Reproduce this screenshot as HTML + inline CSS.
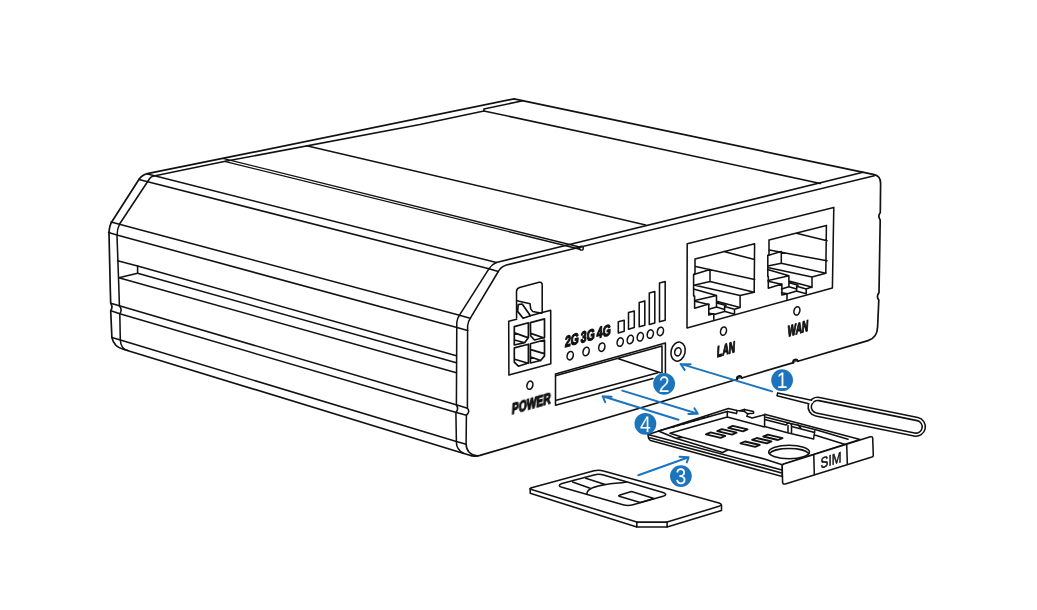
<!DOCTYPE html>
<html><head><meta charset="utf-8"><title>SIM card insertion</title>
<style>
html,body{margin:0;padding:0;background:#fff;}
body{width:1037px;height:610px;overflow:hidden;}
svg{display:block;}
text{text-rendering:geometricPrecision;}
.k{fill:none;stroke:#111;stroke-width:1.55;stroke-linecap:round;stroke-linejoin:round;}
.o{fill:none;stroke:#111;stroke-width:1.7;stroke-linecap:round;stroke-linejoin:round;}
.t{fill:none;stroke:#111;stroke-width:1.4;stroke-linecap:round;stroke-linejoin:round;}
.w{fill:#fff;stroke:#111;stroke-width:1.55;stroke-linecap:round;stroke-linejoin:round;}
.b{fill:none;stroke:#1c75bc;stroke-width:2;stroke-linecap:round;stroke-linejoin:round;}
.lbl text{font-family:"Liberation Sans","DejaVu Sans",sans-serif;font-weight:700;fill:#111;stroke:#111;stroke-width:1.35;stroke-linejoin:round;}
.num{font-family:"Liberation Sans","DejaVu Sans",sans-serif;fill:#fff;font-size:22.5px;text-anchor:middle;}
</style></head>
<body>
<svg width="1037" height="610" viewBox="0 0 1037 610">
<defs><mask id="fm" maskUnits="userSpaceOnUse" x="0" y="0" width="1037" height="610"><rect width="1037" height="610" fill="#fff"/></mask></defs>
<rect width="1037" height="610" fill="#fff"/>

<!-- ===== ROUTER BODY ===== -->
<g id="body">
<!-- silhouette -->
<path class="o" d="M109,233 Q109.3,225.5 112,221.5 L138.9,179.5 Q142,175 147.3,173.7 L223.8,158.2 L514,98.8 L874.3,174.7 Q880.6,176 880.6,183.5 L880.3,212.5 Q877.4,216.2 880.2,220 L879,292.6 Q876,296.4 878.8,300.1 L877.6,327 Q877.3,337.8 868,340.6 L797.9,361.3 A2.3,2.3 0 0 0 793.5,362.6 L741.7,378 A2.3,2.3 0 0 0 737.3,379.3 L480,455.4 Q474,457 469,455 L461.4,452.7 L123.2,349.2 Q114,346.8 111.9,337.6 L110.7,310.7 Q113.2,307 110.7,303.2 L110.3,290 Z"/>
<path d="M793.3,362.7 A2.5,2.5 0 0 1 798.1,361.2 M737.1,379.4 A2.5,2.5 0 0 1 741.9,377.9" fill="#555" stroke="#111" stroke-width="1.9" stroke-linecap="round"/>
<!-- inner left edge -->
<path class="k" d="M128,350.5 Q120.8,349 120.3,340 L119.8,313.8 Q122.6,309.8 119.4,305.7 L118.8,286 L117,236 Q117,229 119.6,224 L149.5,178.8 Q151,176.6 153.9,176.1 L225.4,161.3"/>
<!-- side face long lines -->
<path class="k" d="M147.6,174.1 L496.4,262.5"/>
<path class="k" d="M138.9,179.5 L488.9,268.8 L498.3,271.5"/>
<path class="k" d="M111,222 L459.5,315.2 L470.1,318.3"/>
<path class="k" d="M108.6,232.4 L116.9,235 L457,327.6 L467.6,330.6"/>
<path class="k" d="M117.6,260.8 L137.6,265.9 L456.4,355.7"/>
<path class="k" d="M137.6,265.9 L137.6,273.3 L118.8,277.7 L456.4,372.7"/>
<path class="k" d="M137.6,273.3 L456.4,362.7"/>
<path class="k" d="M110.7,303.2 L119.4,305.7 L457,405 L467.4,408.2"/>
<path class="k" d="M110.9,310.7 L119.8,313.8 L456.4,412.6 L466.4,415.2"/>
<path class="k" d="M111.9,337.4 L120.4,340.1 L456.4,441.4 L466.1,444.2"/>
<!-- front-left corner edges -->
<path class="k" d="M488.9,268.8 Q491.5,264.5 496.4,262.5 L863,172.2"/>
<path class="k" d="M488.9,268.8 L459.5,315.2 Q457,318.5 456.8,322.5 L456.4,405 Q459,408.8 455.9,412.6 L456.4,442.7 Q456.6,449.5 463.5,453.3"/>
<path class="k" d="M874.3,175.7 L506.5,265 Q500.5,267 498.3,271.5 L470.7,317.7 Q467.8,321.5 467.6,326 L467.4,408.2 Q470.5,411.5 466.4,415.2 L466.1,443.9 Q466.3,454.5 478,456"/>
<!-- top face -->
<path class="k" d="M225.4,161.3 L420,124.6 L483.9,110.9 L483.9,108.9 L522.8,100.8"/>
<path class="k" d="M483.9,110.9 L820.4,183.5"/>
<path class="k" d="M306.6,145.7 L645.6,224.9"/>
<path class="t" d="M223.8,158.6 L580.7,247.3 M225.5,161.6 L580,249.2"/>
<circle class="t" cx="581.4" cy="248.2" r="1.9"/>
</g>

<!-- ===== FRONT DETAILS ===== -->
<g id="power">
<path class="k" d="M516.6,318 L516.5,291.4 Q516.6,288.2 519.6,287.4 L539.1,282.3 Q542.2,281.6 542.2,285.1 L542.2,312.4"/>
<path class="k" d="M517,300.7 L530.1,303.8 L530.7,308.9 L532.6,311.4 L541.8,313.2"/>
<path class="k" style="stroke-width:1.7" d="M518.2,304.6 L522.2,304 L530.4,315.8 L523.1,318.3 L517.6,311.4 Z"/>
<path class="k" d="M516.6,319.2 L508.7,321.3 L508.9,375.1 L550.8,363.8 L550.7,310.3 L542.2,312.6 L530.2,315.8"/>
<!-- holes -->
<g class="k" style="stroke-width:1.7">
<path d="M514.3,326.6 L528.4,322.8 L528.4,337.5 L524.7,342.7 L514.3,345 Z M514.6,332.9 L527.8,337.6 M514.6,340 L524.7,342.7"/>
<path d="M530.4,322.6 L544.5,318.9 L544.5,337.5 L534.4,340 L530.6,335.8 Z M530.7,333.4 L544.2,338 "/>
<path d="M514.3,347.9 L528.4,344.2 L528.4,363 L518.4,366.2 L514.3,362.2 Z M514.6,359.3 L528.2,363.3"/>
<path d="M530.4,343.8 L544.5,340 L544.5,355.9 L540.7,360.5 L530.4,363 Z M530.8,349.6 L544.2,353.6 M530.8,357 L540.7,360.5"/>
</g>
<ellipse class="k" cx="529.9" cy="385.2" rx="2.9" ry="4.2" transform="rotate(15 529.9 385.2)"/>
</g>

<g id="leds">
<ellipse class="k" cx="570.2" cy="355.7" rx="3" ry="4.3" transform="rotate(15 570.2 355.7)"/>
<ellipse class="k" cx="586.1" cy="351.5" rx="3" ry="4.3" transform="rotate(15 586.1 351.5)"/>
<ellipse class="k" cx="601.8" cy="347.2" rx="3" ry="4.3" transform="rotate(15 601.8 347.2)"/>
<ellipse class="k" cx="620.2" cy="342.1" rx="3" ry="4.3" transform="rotate(15 620.2 342.1)"/>
<ellipse class="k" cx="630.3" cy="339.5" rx="3" ry="4.3" transform="rotate(15 630.3 339.5)"/>
<ellipse class="k" cx="640.3" cy="336.8" rx="3" ry="4.3" transform="rotate(15 640.3 336.8)"/>
<ellipse class="k" cx="650.3" cy="334.1" rx="3" ry="4.3" transform="rotate(15 650.3 334.1)"/>
<ellipse class="k" cx="660.4" cy="331.4" rx="3" ry="4.3" transform="rotate(15 660.4 331.4)"/>
<!-- signal bars -->
<path class="k" d="M618.3,321.8 L624.2,320.2 L624.2,331.3 L618.3,332.9 Z"/>
<path class="k" d="M628.5,312.6 L634.3,311 L634.3,327.6 L628.5,329.2 Z"/>
<path class="k" d="M639.2,302.5 L644.8,300.9 L644.8,325.2 L639.2,326.8 Z"/>
<path class="k" d="M649.3,293 L654.8,291.5 L654.8,323 L649.3,324.5 Z"/>
<path class="k" d="M659.5,283 L665.2,281.5 L665.2,320.2 L659.5,321.8 Z"/>
</g>

<g id="slot">
<path class="k" d="M555.5,374 L665.4,343.1 L665.4,374.6 M555.5,374 L555.5,405.3 L653,378.5"/>
<path class="k" d="M556.3,375.6 L662,346 L662,372.8 M617.7,358.4 L660.4,372.7 M556.3,400.2 L657.9,372.7"/>
<ellipse class="k" cx="678.1" cy="351.6" rx="7" ry="9.7" transform="rotate(13 678.1 351.6)"/>
<ellipse class="k" cx="677.9" cy="351.8" rx="3.1" ry="4.1" transform="rotate(15 677.9 351.8)"/>
</g>

<g id="rj45">
<path class="k" d="M687.2,243.7 L833.8,207.4 L832.4,287.9 L687,327.9 Z"/>
<!-- LAN -->
<path class="k" d="M695,259.1 L754.6,243.8 L754.2,292.2 M723.9,251.6 L754.6,259.5 M695,259.1 L695,273.9 L693.6,274.5 L693.6,296 L694.6,296 L694.6,308.2 L708.8,304.1 L708.8,315.1 L713.8,313.8 L713.8,319.6"/>
<path class="k" d="M695.7,266.6 L754.6,279.4 M693.8,274.5 L710,269.5 L710,281.4 L693.8,285.2 M710,281.4 L754.2,292.2 L740.1,295.6 L695,285.2 M740.1,295.6 L740.1,307.4 M694.4,289.2 L716.5,295.6 L716.5,306.6 M694.9,300.6 L716.5,295.6 M694.9,301.3 L708.8,304.4 M716.5,301.2 L740.1,307.4 M716.9,302.9 L726,305.4 M740.1,307.4 L734.5,309.2 L734.5,314.2 M708.8,309.3 L716.5,306.9 L724.6,309.4 L724.6,311.4 L715.1,314.2 L708.8,313.2 M724.6,306.4 L734.5,309.2 M725.2,311.6 L734.5,314.2 M724.6,306.4 L724.6,309.4"/>
<!-- WAN -->
<path class="k" d="M769,240.1 L826.4,225.4 L825.8,273.2 M796.4,233.2 L827,240.7 M769,240.1 L769,255 L767.8,255.4 L767.8,276.5 L768.3,276.5 L768.3,288.2 L781.9,284.1 L781.9,295.1 L787,293.8 L787,299.5"/>
<path class="k" d="M769.4,250.1 L827,260.8 M767.8,255.4 L781.3,251.6 L781.3,263.3 L767.8,266 M781.3,263.3 L825.8,273.2 L812,277 L768.8,267.7 M812,277 L812,287.6 M767.6,269.5 L788.9,275.7 L788.9,286.4 M768.1,280.6 L788.9,275.7 M768.1,281.2 L781.5,284.2 M788.9,281.1 L811.6,287.1 M789.3,282.8 L798.0,285.2 M811.6,287.1 L806.2,288.9 L806.2,293.7 M781.5,289.0 L788.9,286.7 L796.7,289.1 L796.7,291.0 L787.5,293.7 L781.5,292.7 M796.7,286.2 L806.2,288.9 M797.2,291.2 L806.2,293.7 M796.7,286.2 L796.7,289.1"/>
<ellipse class="k" cx="723.5" cy="331.1" rx="2.9" ry="4.2" transform="rotate(15 723.5 331.1)"/>
<ellipse class="k" cx="796.9" cy="310.9" rx="2.9" ry="4.2" transform="rotate(15 796.9 310.9)"/>
</g>

<!-- ===== LABELS ===== -->
<g class="lbl" mask="url(#fm)">
<text transform="matrix(0.66 -0.188 -0.05 1 511.8 414.2)" font-size="15.5">POWER</text>
<text transform="matrix(0.57 -0.167 -0.05 1 716.8 357.2)" font-size="15.5">LAN</text>
<text transform="matrix(0.57 -0.167 -0.05 1 787.6 336.7)" font-size="15.5">WAN</text>
<text transform="matrix(0.67 -0.183 -0.05 1 564.7 347.2)" font-size="15.5">2G</text>
<text transform="matrix(0.67 -0.183 -0.05 1 580.6 342.9)" font-size="15.5">3G</text>
<text transform="matrix(0.67 -0.183 -0.05 1 596.6 338.5)" font-size="15.5">4G</text>
</g>

<!-- ===== SIM TRAY ===== -->
<g id="tray">
<path class="w" d="M648,434.5 L728.4,408.5 L737,410.5 L740,410.8 L744.3,409.4 L753.5,411.5 L753.5,413.3 L747.8,413.8 L746.9,416.3 L752.2,417.9 L761.7,415.6 L765.5,414.4 L860.1,439.6 L782.4,464.6 L782.3,476.6 L650.6,440.6 Q648.2,439.3 648,434.5 Z"/>
<path class="k" d="M648,434.5 L781.8,469.9 M648.8,437.5 L781.8,472.9"/>
<path class="k" d="M658.5,431 L727.3,411.4 L727.3,417 L670,433.2 M658.5,431 L675.7,438.3 L722.5,452.5 L728.2,449.7 M675.7,438.3 L682.5,437.3 M670,433.2 L682.5,437.3 L728.2,449.7 L764.4,459 L782.2,464.8 M727.3,417 L763.6,426.7 M727.3,411.4 L736.5,413.6 L737,410.5 M744.3,409.4 L744.6,411.6 L747.8,413.8 M744.6,411.6 L740,410.8"/>
<path class="k" d="M764.6,414.2 L764.6,427 M766,417.2 L815.9,429.7 L848,439.3 M764.7,419.6 L786,425 M764.7,426.6 L786.5,432.4 L813.6,439 L814.7,431 M786,425 Q787,422.5 789.5,423 Q792,423.8 791.5,426.5 L791.5,433.6 M788,425.5 L788,432.8 M791.5,426.5 L814.7,432.4 M798,424.8 L801,428.6 M814.7,434.9 L846.1,444.8"/>
<path d="M672,427.3 L712,415.2" fill="none" stroke="#111" stroke-width="1.6" stroke-dasharray="3 2.2"/>
<!-- contacts -->
<g class="k" style="stroke-width:1.8">
<path d="M705.9,434.3 L720.7,437.8 L725.3,435.9 L710.5,432.4 Z"/>
<path d="M717.2,431.1 L732.0,434.6 L736.6,432.7 L721.8,429.2 Z"/>
<path d="M728.2,427.8 L743.0,431.3 L747.6,429.4 L732.8,425.9 Z"/>
<path d="M740.4,443.4 L755.2,446.9 L759.8,445.0 L745.0,441.5 Z"/>
<path d="M752.1,439.9 L766.9,443.4 L771.5,441.5 L756.7,438.0 Z"/>
<path d="M763.2,436.5 L778.0,440.0 L782.6,438.1 L767.8,434.6 Z"/>
</g>
<ellipse class="k" cx="789.1" cy="452" rx="20.4" ry="6.7"/>
<path class="k" d="M769.3,453.6 A20.4,6.7 0 0 1 808.9,453.6"/>
<!-- front plate -->
<path class="w" d="M782.2,466.3 Q782.2,464.6 783.8,464 L870.3,436.8 Q872.6,436.2 872.7,438.4 L873.3,455.2 Q873.3,456.6 871.9,457.1 L785.3,483.9 Q782.8,484.6 782.6,482.4 Z"/>
<path class="k" d="M813.8,455 L814.3,474.4 M846.7,444.6 L847.3,463.6"/>
<g mask="url(#fm)"><text transform="matrix(0.78 -0.244 0 1 820.6 468.4)" font-family="'Liberation Sans','DejaVu Sans',sans-serif" font-size="15" fill="#111" stroke="#111" stroke-width="0.6">SIM</text></g>
</g>

<!-- ===== EJECT PIN ===== -->
<g id="pin">
<g transform="translate(817.6,406.8) rotate(11.5)">
<rect class="w" x="-9.5" y="-9.5" width="119.3" height="19" rx="9.5"/>
<rect class="w" x="-6.3" y="-6.3" width="112.9" height="12.6" rx="6.3"/>
</g>
<path d="M777.7,392.9 L811.5,400.3 L813.5,402 L809.5,404.6 L777,395.7 Z" fill="#fff"/>
<path class="k" d="M811.5,400.2 L777.7,392.9 L777,395.7 L808.8,403.7"/>
</g>

<!-- ===== LOOSE SIM CARD ===== -->
<g id="simcard">
<path class="w" d="M530.2,488.6 L530.2,493.3 L636.8,527 L667.1,527 L721.5,510.4 L721.5,505 Z"/>
<path class="w" d="M531.5,487.8 L594,470.8 Q598.9,469.5 603.5,471 L719,503 Q723.5,504.5 719,506.3 L667.1,522.1 L636.8,522.1 L531.5,489.4 Q528.5,488.6 531.5,487.8 Z"/>
<path class="k" d="M636.8,522.1 L636.8,527 M667.1,522.1 L667.1,527"/>
<path class="k" d="M562,483.6 L594,474.9 Q598.9,473.6 603.5,475 L663,492.5 Q668.5,494.5 663,496.2 L633,504.8 Q628,506.2 623,504.8 L562,487.3 Q556.5,485.4 562,483.6 Z"/>
<path class="k" d="M572.6,481.9 L590.1,488.2 M585.7,478.2 L605.2,484.4 M587,493.8 C586.6,489 596,485.8 606,484.4 C614,483.3 620,483 626.5,481.9 M640.3,502.4 L620,496.6 Q617.5,495.6 620,494.9 L631.5,491.5 L654,498.4 L640.3,502.4"/>
</g>

<!-- ===== BLUE ARROWS & NUMBERS ===== -->
<g id="arrows">
<path class="b" d="M772,391.4 L680.6,363.9 M690.6,364.2 L680.6,363.9 L684.6,369.9"/>
<path class="b" d="M622.3,390.6 L697.8,413.8 M688.3,414 L697.8,413.8 L694.4,408.3"/>
<path class="b" d="M678.5,419.8 L602.6,396.2 M611.6,396.7 L602.6,396.2 L605.2,402.1"/>
<path class="b" d="M638.3,475.2 L688.6,457.3 M679.6,456.8 L688.6,457.3 L686.8,462.4"/>
<circle cx="782.1" cy="380.2" r="10.9" fill="#1c75bc"/>
<circle cx="664.1" cy="383.8" r="10.9" fill="#1c75bc"/>
<circle cx="680.9" cy="476.1" r="10.9" fill="#1c75bc"/>
<circle cx="645.4" cy="423.8" r="10.9" fill="#1c75bc"/>
<g mask="url(#fm)">
<text class="num" transform="translate(782.1,388.2) scale(0.86,1)">1</text>
<text class="num" transform="translate(664.1,391.8) scale(0.86,1)">2</text>
<text class="num" transform="translate(680.9,484.1) scale(0.86,1)">3</text>
<text class="num" transform="translate(645.4,431.8) scale(0.86,1)">4</text>
</g>
</g>
</svg>
</body></html>
